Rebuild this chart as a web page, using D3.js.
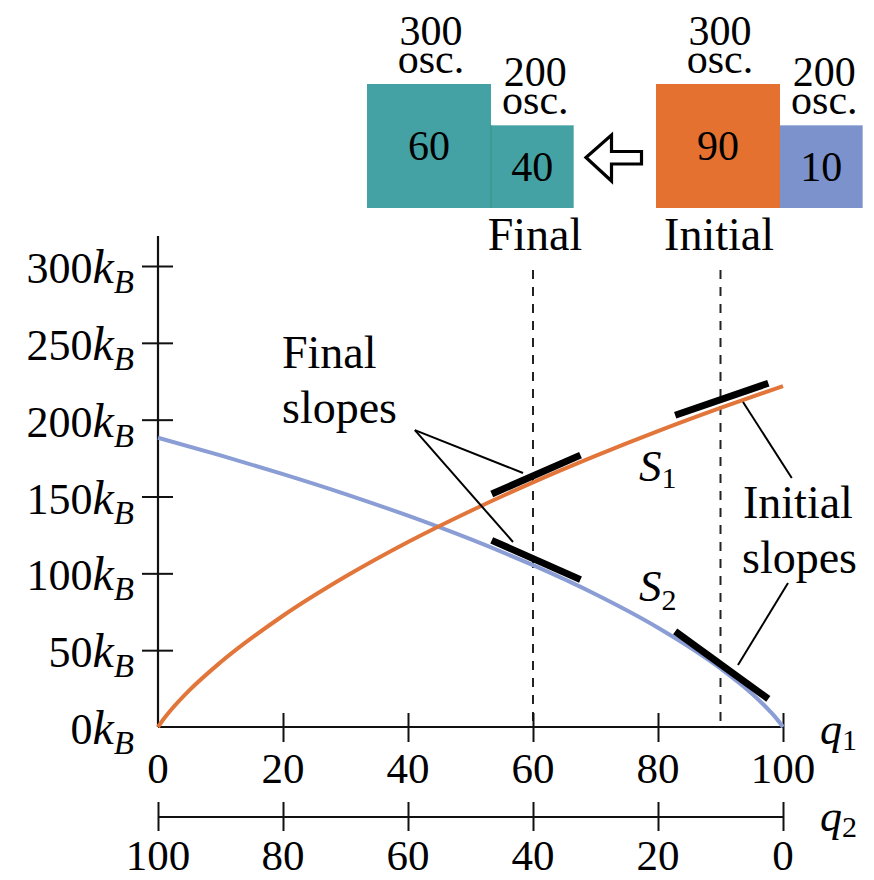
<!DOCTYPE html>
<html><head><meta charset="utf-8">
<script src="https://cdn.jsdelivr.net/npm/d3@7"></script>
<style>
body{margin:0;background:#fff}
svg{display:block}
</style>
</head><body><svg id="c" width="874" height="880"></svg>
<script>
// ---------- data ----------
const q1Ticks = [0, 20, 40, 60, 80, 100];
const q2TickLabels = [100, 80, 60, 40, 20, 0];
const yTicks = [0, 50, 100, 150, 200, 250, 300];

const s1Q    = [0, 1, 2, 5, 10, 20, 30, 40, 50, 60, 70, 80, 90, 100];
const s1Vals = [0, 5.7, 10.7, 23.8, 42.1, 72.4, 97.9, 120.4, 140.6, 159.2, 176.4, 192.5, 207.6, 221.9];
const s2Q    = [0, 10, 20, 30, 40, 50, 60, 70, 80, 90, 95, 98, 99, 100];
const s2Vals = [188.2, 176.8, 164.6, 151.6, 137.5, 122.2, 105.3, 86.4, 64.6, 38.1, 21.8, 9.9, 5.3, 0];

// tangent ("slope") segments: centre q, centre S, slope dS/dq1, half-length in q
const slopeQ      = [60.5, 60.5, 90.2, 90.2];
const slopeS      = [164.3, 108.7, 213.3, 40.3];
const slopeVals   = [1.78, -1.80, 1.40, -2.95];
const slopeHalf   = [7.1, 7.1, 7.45, 7.45];

const dashedQ = [60, 90];
const stateNames = ["Final", "Initial"];
const boxOsc = [300, 200];
const finalUnits = [60, 40];
const initialUnits = [90, 10];

// ---------- setup ----------
const svg = d3.select("#c");
const FONT = "Liberation Serif";
const x = d3.scaleLinear([0, 100], [158, 783]);
const y = d3.scaleLinear([0, 300], [727, 266]);
const boxSize = d3.scaleLinear([0, 300], [0, 124]);

const FS = 42, FSW = 46;
function txt(xp, yp, size, anchor) {
  return svg.append("text").attr("x", xp).attr("y", yp).attr("font-size", size)
    .attr("font-family", FONT).attr("fill", "#000").attr("text-anchor", anchor || "start");
}

// ---------- top boxes ----------
const groups = [
  {name: stateNames[0], x0: 367, units: finalUnits, colors: ["#44a2a5", "#44a2a5"], labelX: 535},
  {name: stateNames[1], x0: 656, units: initialUnits, colors: ["#e4712f", "#7c92cc"], labelX: 719}
];
const bottom = 208;
groups.forEach(g => {
  let cx = g.x0;
  boxOsc.forEach((osc, i) => {
    const s = boxSize(osc);
    const top = bottom - s;
    svg.append("rect").attr("x", cx).attr("y", top).attr("width", s).attr("height", s).attr("fill", g.colors[i]);
    if (i === 1 && g.colors[0] === g.colors[1]) {
      svg.append("line").attr("x1", cx).attr("x2", cx).attr("y1", top).attr("y2", bottom)
        .attr("stroke", "#3b9a8c").attr("stroke-width", 1.5);
    }
    txt(cx + s / 2, top + s / 2 + 14, FS, "middle").text(g.units[i]);
    const lx = cx + s / 2 + (i ? 3 : 2);
    const lab = txt(lx, top - 39, FS, "middle");
    lab.append("tspan").attr("x", lx).text(osc);
    lab.append("tspan").attr("x", lx).attr("dy", 28).text("osc.");
    cx += s;
  });
  txt(g.labelX, 250, FSW, "middle").text(g.name);
});

// arrow (outline, pointing left)
svg.append("path")
  .attr("d", "M586,157.5 L611.5,135 L611.5,151.5 L641.5,151.5 L641.5,164 L611.5,164 L611.5,181 Z")
  .attr("fill", "#fff").attr("stroke", "#000").attr("stroke-width", 3.2).attr("stroke-linejoin", "miter");

// ---------- dashed lines ----------
svg.selectAll(".dash").data(dashedQ).join("line")
  .attr("x1", d => x(d)).attr("x2", d => x(d)).attr("y1", 270).attr("y2", y(0))
  .attr("stroke", "#222").attr("stroke-width", 2).attr("stroke-dasharray", "9,8");

// ---------- axes ----------
const yAx = svg.append("g").attr("transform", `translate(${x(0)},0)`)
  .call(d3.axisLeft(y).tickValues(yTicks.filter(v => v > 0)).tickSize(0).tickFormat(""));
yAx.select(".domain").remove();
yAx.selectAll(".tick line").attr("x1", -16).attr("x2", 15).attr("stroke", "#111").attr("stroke-width", 2);
svg.append("line").attr("x1", x(0)).attr("x2", x(0)).attr("y1", 236).attr("y2", y(0))
  .attr("stroke", "#111").attr("stroke-width", 2.2);
yTicks.forEach(v => {
  const t = txt(134, y(v) + 17, 44, "end");
  t.append("tspan").text(v);
  t.append("tspan").attr("font-style", "italic").attr("font-size", 48).text("k");
  t.append("tspan").attr("font-style", "italic").attr("font-size", 33).attr("dy", 10).text("B");
});

const xAx = svg.append("g").attr("transform", `translate(0,${y(0)})`)
  .call(d3.axisBottom(x).tickValues(q1Ticks.filter(v => v > 0)).tickSize(0).tickFormat(""));
xAx.select(".domain").remove();
xAx.selectAll(".tick line").attr("y1", -14).attr("y2", 15).attr("stroke", "#111").attr("stroke-width", 2);
svg.append("line").attr("x1", x(0)).attr("x2", x(100)).attr("y1", y(0)).attr("y2", y(0))
  .attr("stroke", "#111").attr("stroke-width", 2.2);
q1Ticks.forEach(v => { txt(x(v), 783, 43, "middle").text(v); });
const q1Lab = txt(820, 744, 44);
q1Lab.append("tspan").attr("font-style", "italic").text("q");
q1Lab.append("tspan").attr("font-size", 30).attr("dy", 6).text("1");

const q2y = 817;
const x2 = d3.scaleLinear([100, 0], [x(0), x(100)]);
const x2Ax = svg.append("g").attr("transform", `translate(0,${q2y})`)
  .call(d3.axisBottom(x2).tickValues(q2TickLabels).tickSize(0).tickFormat(""));
x2Ax.select(".domain").remove();
x2Ax.selectAll(".tick line").attr("y1", -15).attr("y2", 14).attr("stroke", "#111").attr("stroke-width", 2);
svg.append("line").attr("x1", x(0)).attr("x2", x(100)).attr("y1", q2y).attr("y2", q2y)
  .attr("stroke", "#111").attr("stroke-width", 2.2);
q2TickLabels.forEach(v => { txt(x2(v), 870, 43, "middle").text(v); });
const q2Lab = txt(820, 831, 44);
q2Lab.append("tspan").attr("font-style", "italic").text("q");
q2Lab.append("tspan").attr("font-size", 30).attr("dy", 6).text("2");

// ---------- curves ----------
const line = d3.line().x(d => x(d[0])).y(d => y(d[1])).curve(d3.curveMonotoneX);
svg.append("path").datum(s2Q.map((q, i) => [q, s2Vals[i]])).attr("d", line)
  .attr("fill", "none").attr("stroke", "#8a9dd5").attr("stroke-width", 4);
svg.append("path").datum(s1Q.map((q, i) => [q, s1Vals[i]])).attr("d", line)
  .attr("fill", "none").attr("stroke", "#e2763a").attr("stroke-width", 4);

// ---------- slope segments ----------
slopeQ.forEach((qc, i) => {
  const h = slopeHalf[i];
  svg.append("line")
    .attr("x1", x(qc - h)).attr("y1", y(slopeS[i] - slopeVals[i] * h))
    .attr("x2", x(qc + h)).attr("y2", y(slopeS[i] + slopeVals[i] * h))
    .attr("stroke", "#000").attr("stroke-width", 7);
});

// ---------- annotations ----------
const leaders = [
  [[41.1, 193.2], [58.4, 165.3]],
  [[41.1, 193.2], [56.8, 120.4]],
  [[93.6, 211.5], [101.4, 162.0]],
  [[100.8, 93.7], [92.8, 40.3]]
];
leaders.forEach(([a, b]) => {
  svg.append("line").attr("x1", x(a[0])).attr("y1", y(a[1])).attr("x2", x(b[0])).attr("y2", y(b[1]))
    .attr("stroke", "#000").attr("stroke-width", 2);
});
txt(282, 368, FSW).text("Final");
txt(282, 423, FSW).text("slopes");
txt(743, 518, FSW).text("Initial");
txt(742, 573, FSW).text("slopes");

const s1Lab = txt(639, 481, 45);
s1Lab.append("tspan").attr("font-style", "italic").text("S");
s1Lab.append("tspan").attr("font-size", 30).attr("dy", 7).text("1");
const s2Lab = txt(639, 601, 45);
s2Lab.append("tspan").attr("font-style", "italic").text("S");
s2Lab.append("tspan").attr("font-size", 30).attr("dy", 9).text("2");
</script>
</body></html>
